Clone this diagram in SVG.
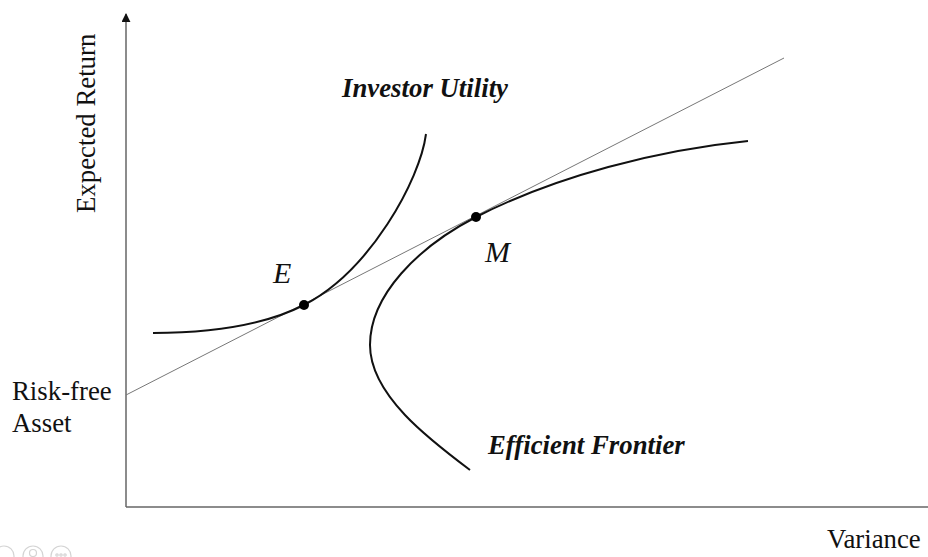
<svg xmlns="http://www.w3.org/2000/svg" width="928" height="557" viewBox="0 0 928 557">
<defs>
<style>
.lbl{font-family:"Liberation Serif","Times New Roman",serif;font-size:26.8px;fill:#111}
.bi{font-weight:bold;font-style:italic}
.it{font-style:italic;font-size:30px}
.axis{stroke:#666;stroke-width:1.5;fill:none}
.curve{stroke:#111;stroke-width:2;fill:none}
.cml{stroke:#777;stroke-width:1;fill:none}
.dot{fill:#000}
.ui{fill:none;stroke:#d4d4d4;stroke-width:1.2}
</style>
<marker id="arr" viewBox="0 0 10 10" refX="9" refY="5" markerWidth="9" markerHeight="9" markerUnits="userSpaceOnUse" orient="auto">
<path d="M0,0 L10,5 L0,10 z" fill="#111"/>
</marker>
</defs>
<rect width="928" height="557" fill="#fff"/>
<g id="connectors">
<line id="y-axis" class="axis" x1="126" y1="507" x2="126" y2="14" marker-end="url(#arr)"/>
<line id="x-axis" class="axis" x1="126" y1="507" x2="928" y2="507"/>
<line id="cml" class="cml" x1="126" y1="395" x2="784" y2="58"/>
</g>
<g id="investor-utility">
<path class="curve" d="M153,333 C200,333 259,328 304,305 C370,271 420,180 426,134"/>
<text class="lbl bi" x="342" y="97">Investor Utility</text>
</g>
<g id="efficient-frontier">
<path class="curve" d="M470,470 C430,440 370,395 370,345 C370,295 418,247 476,217 C556,176 658,150 748,141"/>
<text class="lbl bi" x="488" y="454">Efficient Frontier</text>
</g>
<g id="point-E">
<circle class="dot" cx="304" cy="305" r="5"/>
<text class="lbl it" x="273" y="283">E</text>
</g>
<g id="point-M">
<circle class="dot" cx="476" cy="217" r="5"/>
<text class="lbl it" x="485" y="262">M</text>
</g>
<g id="risk-free">
<text class="lbl" x="12" y="400">Risk-free</text>
<text class="lbl" x="12" y="432">Asset</text>
</g>
<g id="labels">
<text class="lbl" transform="translate(95,213) rotate(-90)">Expected Return</text>
<text class="lbl" x="827" y="548">Variance</text>
</g>
<g id="ui-icons">
<circle class="ui" cx="4" cy="556" r="10"/>
<circle class="ui" cx="33" cy="556" r="10"/>
<circle class="ui" cx="33" cy="553" r="3.5"/>
<circle class="ui" cx="61" cy="556" r="10"/>
<circle class="ui" cx="57" cy="555" r="1.2"/>
<circle class="ui" cx="61" cy="555" r="1.2"/>
<circle class="ui" cx="65" cy="555" r="1.2"/>
</g>
</svg>
